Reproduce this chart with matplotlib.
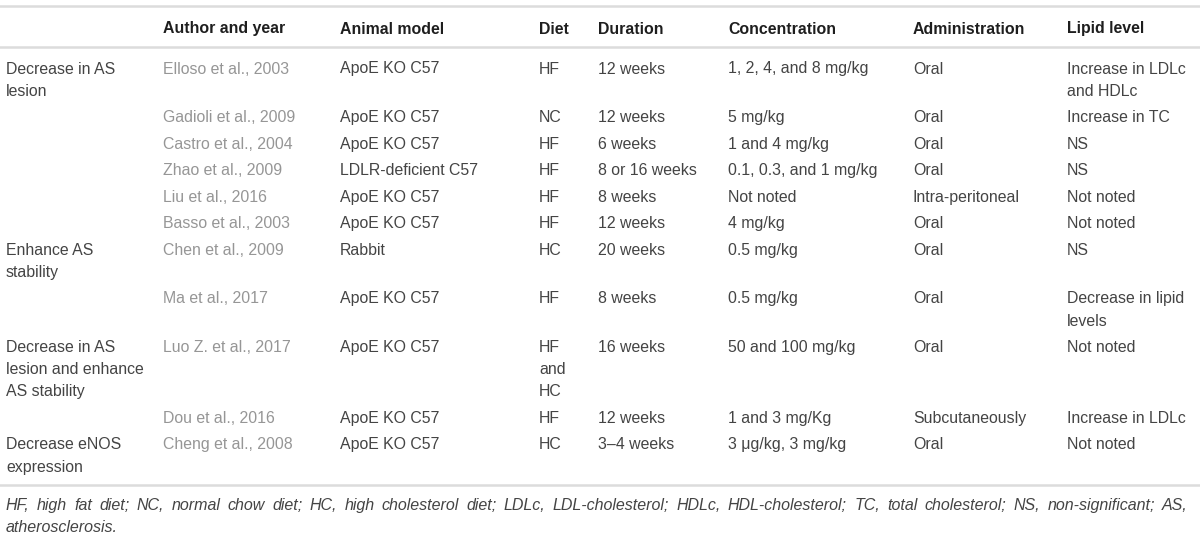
import matplotlib.pyplot as plt

plt.rcParams['font.family'] = ['Liberation Sans', 'DejaVu Sans']

headers = ["", "Author and year", "Animal model", "Diet", "Duration",
           "Concentration", "Administration", "Lipid level"]

effects = ["Decrease in AS\nlesion", "", "", "", "", "",
           "Enhance AS\nstability", "",
           "Decrease in AS\nlesion and enhance\nAS stability", "",
           "Decrease eNOS\nexpression"]
authors = ["Elloso et al., 2003", "Gadioli et al., 2009", "Castro et al., 2004",
           "Zhao et al., 2009", "Liu et al., 2016", "Basso et al., 2003",
           "Chen et al., 2009", "Ma et al., 2017", "Luo Z. et al., 2017",
           "Dou et al., 2016", "Cheng et al., 2008"]
models = ["ApoE KO C57", "ApoE KO C57", "ApoE KO C57", "LDLR-deficient C57",
          "ApoE KO C57", "ApoE KO C57", "Rabbit", "ApoE KO C57", "ApoE KO C57",
          "ApoE KO C57", "ApoE KO C57"]
diets = ["HF", "NC", "HF", "HF", "HF", "HF", "HC", "HF", "HF\nand\nHC", "HF", "HC"]
durations = ["12 weeks", "12 weeks", "6 weeks", "8 or 16 weeks", "8 weeks",
             "12 weeks", "20 weeks", "8 weeks", "16 weeks", "12 weeks", "3\u20134 weeks"]
concentrations = ["1, 2, 4, and 8 mg/kg", "5 mg/kg", "1 and 4 mg/kg",
                  "0.1, 0.3, and 1 mg/kg", "Not noted", "4 mg/kg", "0.5 mg/kg",
                  "0.5 mg/kg", "50 and 100 mg/kg", "1 and 3 mg/Kg",
                  "3 \u03bcg/kg, 3 mg/kg"]
administration = ["Oral", "Oral", "Oral", "Oral", "Intra-peritoneal", "Oral",
                  "Oral", "Oral", "Oral", "Subcutaneously", "Oral"]
lipids = ["Increase in LDLc\nand HDLc", "Increase in TC", "NS", "NS", "Not noted",
          "Not noted", "NS", "Decrease in lipid\nlevels", "Not noted",
          "Increase in LDLc", "Not noted"]

footnote = ("HF, high fat diet; NC, normal chow diet; HC, high cholesterol diet; "
            "LDLc, LDL-cholesterol; HDLc, HDL-cholesterol; TC, total cholesterol; "
            "NS, non-significant; AS, atherosclerosis.")

col_x = [6, 163, 340, 539, 598, 728, 913, 1067]
fs = 11.4
line_h = 22.2
row_gap = 26.5
base = 5.5  # baseline offset from line centre

fig = plt.figure(figsize=(12, 5.35), dpi=100)
ax = fig.add_axes([0, 0, 1, 1])
ax.set_xlim(0, 1200)
ax.set_ylim(535, 0)
ax.axis('off')

rule = dict(color='#dcdcdc', lw=1.8)
ax.plot([0, 1200], [6, 6], **rule)
ax.plot([0, 1200], [47, 47], **rule)

for x, h in zip(col_x, headers):
    ax.text(x, 28 + base, h, fontsize=fs, fontweight='bold', color='#1e1e1e',
            va='baseline', ha='left')

columns = [effects, authors, models, diets, durations, concentrations,
           administration, lipids]
y = 68
for i in range(len(authors)):
    n = 1
    for c, (x, col) in enumerate(zip(col_x, columns)):
        lines = col[i].split("\n")
        n = max(n, len(lines))
        color = '#969696' if c == 1 else '#444444'
        for k, s in enumerate(lines):
            ax.text(x, y + k * line_h + base, s, fontsize=fs, color=color,
                    va='baseline', ha='left')
    last = y + (n - 1) * line_h
    y = last + row_gap

bottom = last + 19
ax.plot([0, 1200], [bottom, bottom], **rule)

# justified italic footnote
fig.canvas.draw()
renderer = fig.canvas.get_renderer()
words = footnote.split(" ")
foot_fs = 11.5


def word_width(w):
    t = ax.text(0, 0, w, fontsize=foot_fs, style='italic')
    bb = t.get_window_extent(renderer)
    t.remove()
    return bb.width


widths = [word_width(w) for w in words]
space = word_width("a a") - word_width("aa")
max_w = 1188 - 6
lines = []
cur = []
cur_w = 0
for w, wd in zip(words, widths):
    add = wd if not cur else cur_w + space + wd
    if cur and add > max_w:
        lines.append(cur)
        cur, cur_w = [(w, wd)], wd
    else:
        cur.append((w, wd))
        cur_w = add
lines.append(cur)

fy = bottom + 19
for li, line in enumerate(lines):
    total = sum(wd for _, wd in line)
    if li < len(lines) - 1 and len(line) > 1:
        gap = (max_w - total) / (len(line) - 1)
    else:
        gap = space
    x = 6
    for w, wd in line:
        ax.text(x, fy + base, w, fontsize=foot_fs, style='italic', color='#444444',
                va='baseline', ha='left')
        x += wd + gap
    fy += line_h

fig.savefig('out.png', dpi=100)
